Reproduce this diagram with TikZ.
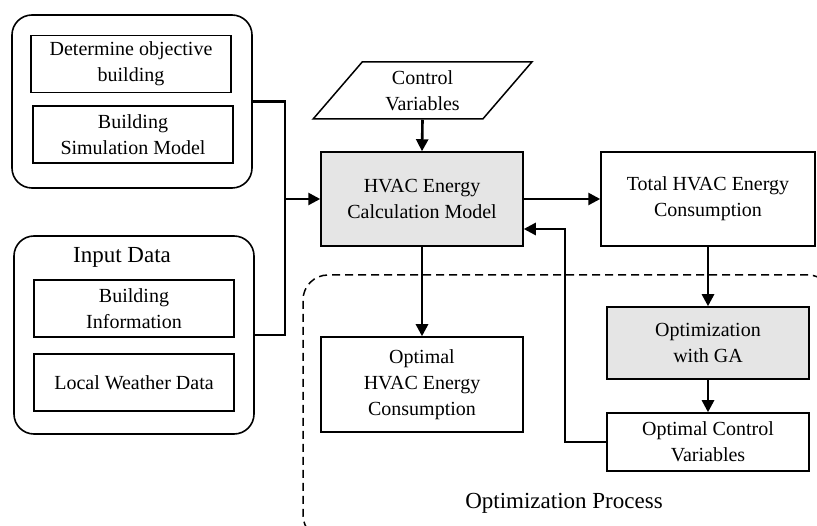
\documentclass[tikz,border=0pt]{standalone}
\usepackage{fontspec}
\setmainfont{Liberation Serif}
\usetikzlibrary{arrows.meta,shapes.geometric}
\definecolor{boxgray}{gray}{0.9}
\begin{document}
\begin{tikzpicture}[x=1pt, y=-1pt, font=\fontsize{20}{26}\selectfont,
    box/.style={draw, line width=1.5pt, align=center, inner sep=0pt},
    group/.style={draw, line width=1.6pt, rounded corners=20pt, inner sep=0pt},
    label/.style={font=\fontsize{23}{28}\selectfont},
    link/.style={line width=2.6pt},
    arrow/.style={link, -{Triangle[length=12pt, width=12pt]}}]
  \useasboundingbox (0,0) rectangle (817,526);
  % optimisation loop, running off the page at right and bottom
  \node[draw, line width=1.5pt, dash pattern=on 8pt off 5pt, rounded corners=25pt,
    minimum width=530pt, minimum height=265pt, inner sep=0pt] (optproc) at (568,407.5) {};
  \node[label] (optlabel) at (564,503) {Optimization Process};
  % input side
  \node[group, minimum width=240pt, minimum height=173pt] (grp1) at (132,101.5) {};
  \node[group, minimum width=240pt, minimum height=198pt] (grp2) at (134,335) {};
  \node[label] (inlabel) at (122,257) {Input Data};
  \foreach \n/\x/\y/\t in {det/131/64/{Determine objective\\building},
      sim/133/134.5/{Building\\Simulation Model}, info/134/308.5/{Building\\Information},
      weather/134/382.5/{Local Weather Data}}
    \node[box, minimum width=200pt, minimum height=57pt] (\n) at (\x,\y) {\t};
  % model and results
  \node[draw, line width=1.5pt, trapezium, trapezium left angle=53, trapezium right angle=127,
    trapezium stretches=true, minimum width=219pt, minimum height=57pt, align=center,
    inner sep=0pt] (ctrl) at (422.5,90.5) {Control\\Variables};
  \node[box, fill=boxgray, minimum width=202pt, minimum height=94pt] (hvac) at (422,199)
    {HVAC Energy\\Calculation Model};
  \node[box, minimum width=214pt, minimum height=94pt] (total) at (708,199)
    {Total HVAC Energy\\Consumption};
  \node[box, fill=boxgray, minimum width=202pt, minimum height=72pt] (opt) at (708,343)
    {Optimization\\with GA};
  \node[box, minimum width=202pt, minimum height=58pt] (optctrl) at (708,442)
    {Optimal Control\\Variables};
  \node[box, minimum width=202pt, minimum height=95pt] (opthvac) at (422,384.5)
    {Optimal\\HVAC Energy\\Consumption};
  % connectors
  \coordinate (join) at (285,199);
  \coordinate (fb) at (565,229);
  \draw[link] (grp1.east) -| (join) |- (grp2.east);
  \draw[arrow] (join) -- (hvac.west);
  \draw[arrow] (hvac.east) -- (total.west);
  \foreach \a/\b in {ctrl/hvac, total/opt, opt/optctrl, hvac/opthvac}
    \draw[arrow] (\a.south) -- (\b.north);
  \draw[arrow] (optctrl.west) -| (fb) -- (fb -| hvac.east);
\end{tikzpicture}
\end{document}
